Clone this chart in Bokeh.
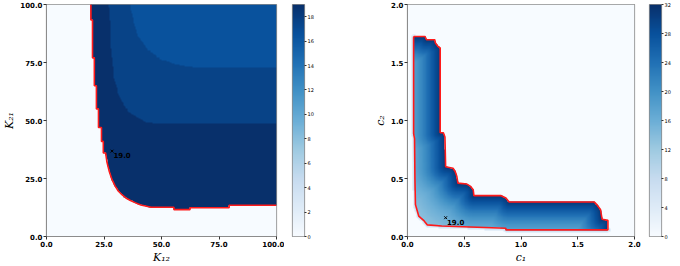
import numpy as np
from bokeh.plotting import figure
from bokeh.layouts import row
from bokeh.models import LinearColorMapper, FixedTicker
from bokeh.palettes import Blues256
from bokeh.core.properties import value
from bokeh.embed import file_html
from bokeh.resources import INLINE

# ---------------- data: left panel (K12, K21) ----------------
left_vmax = 19.0
left_cb_ticks = [0, 2, 4, 6, 8, 10, 12, 14, 16, 18]
left_ticks = [0, 25, 50, 75, 100]
left_tick_labels = ["0.0", "25.0", "50.0", "75.0", "100.0"]
# red contour: boundary of the feasible region
left_contour_x = [19.3, 19.3, 20.0, 20.0, 20.8, 20.8, 21.7, 21.7, 22.6, 22.6, 23.9, 23.9,
                  24.7, 24.7, 25.7, 26.3, 27.3, 28.5, 29.8, 31.2, 32.8, 34.5, 36.5, 38.5,
                  41.0, 45.5, 55.4, 55.4, 62.4, 62.4, 79.4, 79.4, 100.0]
left_contour_y = [100.0, 93.3, 93.3, 77.0, 77.0, 65.0, 65.0, 55.0, 55.0, 47.0, 47.0, 41.0,
                  41.0, 36.0, 36.0, 32.0, 28.0, 24.5, 21.8, 19.6, 18.0, 16.6, 15.5, 14.6,
                  13.6, 12.6, 12.6, 11.6, 11.6, 12.4, 12.4, 13.5, 13.5]
# band boundaries inside the region (value bands)
left_band_mid_x = [27.1, 28.2, 29.2, 31.4, 35.6, 42.7, 46.9, 100.0]
left_band_mid_y = [100.0, 80.5, 69.2, 60.7, 53.6, 49.6, 48.6, 48.6]
left_band_top_x = [36.3, 37.7, 39.8, 44.1, 49.7, 58.2, 68.0, 100.0]
left_band_top_y = [100.0, 93.3, 86.2, 80.5, 76.3, 73.7, 72.7, 72.7]
left_band_values = [19.0, 17.6, 16.5]   # region, middle band, upper band
left_marker = (28.5, 36.8)
left_marker_value = 19.0

# ---------------- data: right panel (c1, c2) ----------------
right_vmax = 32.0
right_cb_ticks = [0, 4, 8, 12, 16, 20, 24, 28, 32]
right_ticks = [0.0, 0.5, 1.0, 1.5, 2.0]
right_tick_labels = ["0.0", "0.5", "1.0", "1.5", "2.0"]
right_outer_x = [0.054, 0.155, 0.167, 0.240, 0.246, 0.268, 0.288, 0.288, 0.316, 0.330, 0.336,
                 0.401, 0.420, 0.435, 0.444, 0.523, 0.556, 0.579, 0.585, 0.825, 0.867, 0.895,
                 1.644, 1.672, 1.700, 1.715, 1.766, 1.766]
right_outer_y = [1.724, 1.724, 1.696, 1.696, 1.668, 1.640, 1.625, 0.895, 0.895, 0.858, 0.602,
                 0.588, 0.560, 0.517, 0.460, 0.452, 0.432, 0.403, 0.352, 0.352, 0.332, 0.298,
                 0.298, 0.270, 0.233, 0.148, 0.139, 0.057]
right_inner_x = [0.867, 0.867, 0.302, 0.175, 0.147, 0.099, 0.070, 0.0655, 0.062, 0.054]
right_inner_y = [0.057, 0.071, 0.090, 0.100, 0.134, 0.176, 0.276, 0.503, 0.844, 0.886]
# value read across the band: distance from the outer (red, upper/right) edge -> value
right_profile_dist = [0.0, 0.05, 0.10, 0.15, 0.20, 0.25, 0.30, 0.40, 0.55]
right_profile_value = [31.0, 28.0, 25.0, 22.0, 19.5, 17.5, 16.0, 14.0, 12.0]
# faint halo just outside the lower/left edge of the region
right_halo_width = 0.02
right_halo_value = 6.0
right_marker = (0.336, 0.162)
right_marker_value = 19.0

# ---------------- helpers ----------------
pal = list(Blues256)
if int(pal[0][1:3], 16) < int(pal[-1][1:3], 16):
    pal = pal[::-1]   # light -> dark


def inside(px, py, vx, vy):
    vx = np.asarray(vx, float)
    vy = np.asarray(vy, float)
    res = np.zeros(px.shape, bool)
    n = len(vx)
    j = n - 1
    with np.errstate(divide="ignore", invalid="ignore"):
        for i in range(n):
            xi, yi, xj, yj = vx[i], vy[i], vx[j], vy[j]
            if yi != yj:
                cross = ((yi > py) != (yj > py)) & (px < (xj - xi) * (py - yi) / (yj - yi) + xi)
                res ^= cross
            j = i
    return res


def dist_to_polyline(px, py, vx, vy):
    d = np.full(px.shape, np.inf)
    for i in range(len(vx) - 1):
        ax, ay, bx, by = vx[i], vy[i], vx[i + 1], vy[i + 1]
        dx, dy = bx - ax, by - ay
        L2 = dx * dx + dy * dy
        t = np.clip(((px - ax) * dx + (py - ay) * dy) / L2, 0, 1) if L2 > 0 else 0
        cx, cy = ax + t * dx, ay + t * dy
        d = np.minimum(d, np.hypot(px - cx, py - cy))
    return d


FONT = "DejaVu Sans"
FH = 232


def style_main(p, ticks, labels):
    p.grid.visible = False
    p.outline_line_color = "#8c8c8c"
    p.outline_line_width = 1.2
    p.background_fill_color = "white"
    p.border_fill_color = "white"
    for ax in (p.xaxis[0], p.yaxis[0]):
        ax.ticker = FixedTicker(ticks=ticks)
        ax.major_label_overrides = {t: l for t, l in zip(ticks, labels)}
        ax.major_label_text_font = FONT
        ax.major_label_text_font_style = "bold"
        ax.major_label_text_font_size = "7px"
        ax.major_label_text_color = "black"
        ax.major_label_standoff = 1
        ax.major_tick_out = 3
        ax.major_tick_in = 0
        ax.major_tick_line_color = "#333333"
        ax.minor_tick_line_color = None
        ax.axis_line_color = "#8c8c8c"
        ax.axis_label_text_font = "DejaVu Serif"
        ax.axis_label_text_font_style = "italic"
        ax.axis_label_text_font_size = "11px"
        ax.axis_label_standoff = 1
        ax.axis_label_text_color = "black"


def colorbar_fig(vmax, ticks, mapper, left, right):
    cb = figure(frame_width=12, frame_height=FH, x_range=(0, 1), y_range=(0, vmax),
                x_axis_location=None, y_axis_location="right",
                output_backend="svg", toolbar_location=None,
                min_border_left=left, min_border_right=right,
                min_border_top=4, min_border_bottom=26)
    grad = np.linspace(0, vmax, 256).reshape(256, 1)
    cb.image(image=[grad], x=0, y=0, dw=1, dh=vmax, color_mapper=mapper)
    cb.grid.visible = False
    cb.outline_line_color = "#8c8c8c"
    cb.outline_line_width = 1.2
    ax = cb.yaxis[0]
    ax.ticker = FixedTicker(ticks=ticks)
    ax.major_label_text_font = FONT
    ax.major_label_text_font_size = "5px"
    ax.major_label_text_color = "black"
    ax.major_label_standoff = 1
    ax.major_tick_out = 2
    ax.major_tick_in = 0
    ax.major_tick_line_color = "#333333"
    ax.minor_tick_line_color = None
    ax.axis_line_color = None
    return cb


# ---------------- left panel ----------------
n = 300
cx = (np.arange(n) + 0.5) * 100.0 / n
GX, GY = np.meshgrid(cx, cx)
reg = inside(GX, GY, left_contour_x + [100.0], left_contour_y + [100.0])
mid = inside(GX, GY, left_band_mid_x + [100.0], left_band_mid_y + [100.0])
top = inside(GX, GY, left_band_top_x + [100.0], left_band_top_y + [100.0])
img1 = np.zeros((n, n))
img1[reg] = left_band_values[0]
img1[reg & mid] = left_band_values[1]
img1[reg & top] = left_band_values[2]

map1 = LinearColorMapper(palette=pal, low=0, high=left_vmax)
p1 = figure(frame_width=230, frame_height=FH, x_range=(0, 100), y_range=(0, 100),
            output_backend="svg", toolbar_location=None,
            min_border_left=38, min_border_right=8, min_border_top=4, min_border_bottom=26)
p1.image(image=[img1], x=0, y=0, dw=100, dh=100, color_mapper=map1)
p1.line(left_contour_x, left_contour_y, line_color="#ff1a1a", line_width=1.6)
p1.scatter([left_marker[0]], [left_marker[1]], marker="x", size=4, line_color="black", line_width=1)
p1.text([left_marker[0] + 0.6], [left_marker[1] - 0.5], text=[f"{left_marker_value:.1f}"],
        text_font=value(FONT), text_font_style="bold", text_font_size="7px",
        text_baseline="top", text_align="left", text_color="black")
p1.xaxis.axis_label = "K₁₂"
p1.yaxis.axis_label = "K₂₁"
style_main(p1, left_ticks, left_tick_labels)
cb1 = colorbar_fig(left_vmax, left_cb_ticks, map1, 8, 14)

# ---------------- right panel ----------------
m = 400
cr = (np.arange(m) + 0.5) * 2.0 / m
RX, RY = np.meshgrid(cr, cr)
poly_x = right_outer_x + right_inner_x
poly_y = right_outer_y + right_inner_y
reg2 = inside(RX, RY, poly_x, poly_y)
d = dist_to_polyline(RX, RY, right_outer_x, right_outer_y)
d_in = dist_to_polyline(RX, RY, [right_outer_x[-1]] + right_inner_x + [right_outer_x[0]],
                        [right_outer_y[-1]] + right_inner_y + [right_outer_y[0]])
img2 = np.where(reg2, np.interp(d, right_profile_dist, right_profile_value), 0.0)
halo = (~reg2) & (d_in < right_halo_width) & (d > 0.01)
img2[halo] = right_halo_value

map2 = LinearColorMapper(palette=pal, low=0, high=right_vmax)
p2 = figure(frame_width=227, frame_height=FH, x_range=(0, 2), y_range=(0, 2),
            output_backend="svg", toolbar_location=None,
            min_border_left=89, min_border_right=7, min_border_top=4, min_border_bottom=26)
p2.image(image=[img2], x=0, y=0, dw=2, dh=2, color_mapper=map2)
p2.line(poly_x + [poly_x[0]], poly_y + [poly_y[0]], line_color="#ff1a1a", line_width=1.6)
p2.scatter([right_marker[0]], [right_marker[1]], marker="x", size=4, line_color="black", line_width=1)
p2.text([right_marker[0] + 0.012], [right_marker[1] - 0.01], text=[f"{right_marker_value:.1f}"],
        text_font=value(FONT), text_font_style="bold", text_font_size="7px",
        text_baseline="top", text_align="left", text_color="black")
p2.xaxis.axis_label = "c₁"
p2.yaxis.axis_label = "c₂"
style_main(p2, right_ticks, right_tick_labels)
cb2 = colorbar_fig(right_vmax, right_cb_ticks, map2, 8, 11)

layout = row(p1, cb1, p2, cb2)
open("out.html", "w").write(file_html(layout, INLINE))
